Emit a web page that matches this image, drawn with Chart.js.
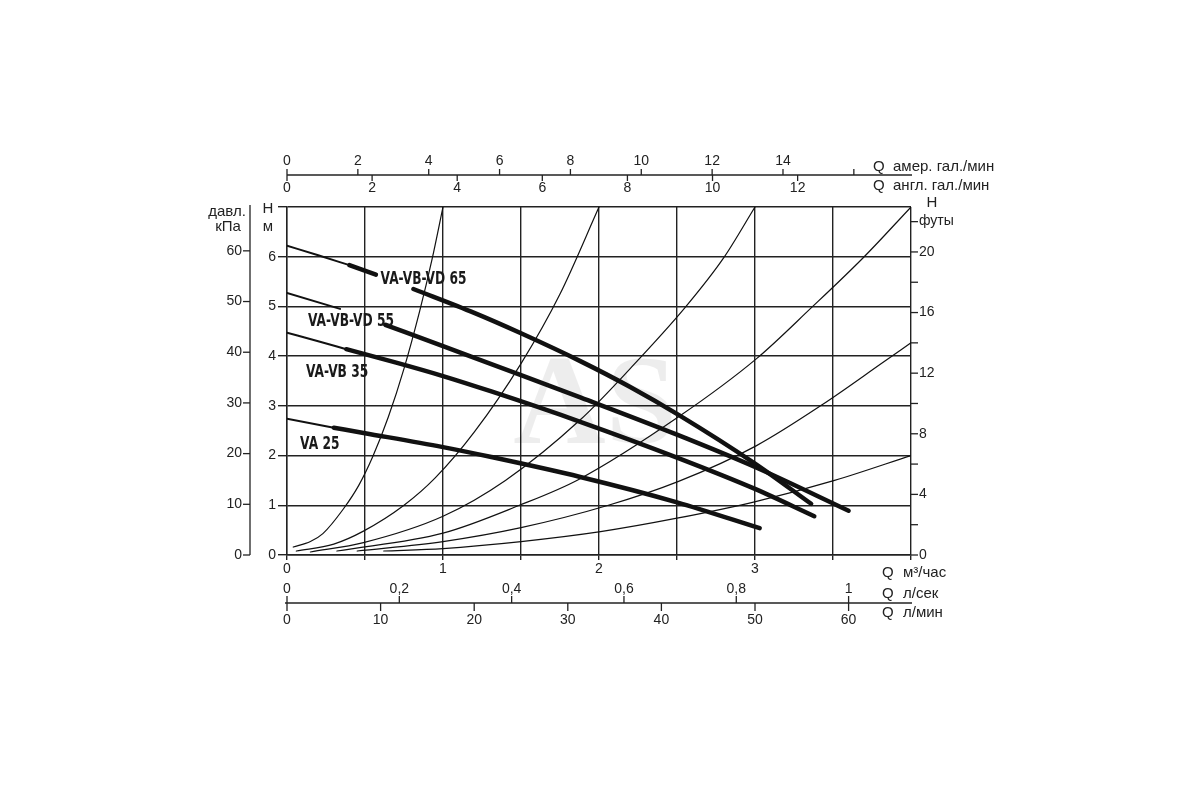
<!DOCTYPE html>
<html lang="ru">
<head>
<meta charset="utf-8">
<title>VA-VB-VD</title>
<script src="https://cdn.jsdelivr.net/npm/chart.js@4.4.1/dist/chart.umd.min.js"></script>
<style>
  html, body { margin: 0; background: #fff; }
  #wrap { width: 1200px; height: 800px; }
</style>
</head>
<body>
<div id="wrap"><canvas id="chart" width="1200" height="800"></canvas></div>
<script>
// Q in m3/h, H in m
const va65Thin   = [[0, 6.22], [0.2, 6.03], [0.4, 5.83]];
const va65ThickA = [[0.4, 5.83], [0.57, 5.64]];
const va65ThickB = [[0.81, 5.35], [1.2, 4.87], [1.5, 4.46], [1.88, 3.9], [2.2, 3.38], [2.51, 2.82], [3.0, 1.84], [3.36, 1.03]];

const va55Thin  = [[0, 5.27], [0.34, 4.95]];
const va55Thick = [[0.63, 4.63], [1.0, 4.2], [1.5, 3.62], [1.88, 3.17], [2.5, 2.42], [3.0, 1.77], [3.6, 0.89]];

const va35Thin  = [[0, 4.47], [0.2, 4.3], [0.38, 4.14]];
const va35Thick = [[0.38, 4.14], [0.7, 3.87], [1.0, 3.6], [1.31, 3.29], [1.88, 2.68], [2.5, 1.96], [3.0, 1.33], [3.38, 0.78]];

const va25Thin  = [[0, 2.74], [0.3, 2.56]];
const va25Thick = [[0.3, 2.56], [0.5, 2.45], [1.0, 2.17], [1.31, 1.97], [1.88, 1.57], [2.5, 1.06], [3.03, 0.54]];

// system (pipe) curves
const sys1 = [[0.04, 0.16], [0.15, 0.27], [0.23, 0.43], [0.36, 0.92], [0.46, 1.4], [0.55, 1.98], [0.65, 2.78], [0.75, 3.75], [0.85, 4.9], [0.93, 5.95], [1.0, 7.0]];
const sys2 = [[0.06, 0.08], [0.3, 0.22], [0.49, 0.48], [0.75, 1.0], [0.95, 1.55], [1.2, 2.47], [1.5, 3.85], [1.75, 5.25], [2.0, 7.0]];
const sys3 = [[0.15, 0.06], [0.49, 0.25], [1.0, 0.78], [1.4, 1.5], [1.88, 2.72], [2.2, 3.75], [2.55, 4.97], [2.8, 5.98], [3.0, 7.0]];
const sys4 = [[0.32, 0.08], [1.0, 0.44], [1.49, 1.0], [1.87, 1.52], [2.51, 2.78], [3.01, 3.95], [3.36, 4.97], [3.7, 6.0], [4.0, 7.0]];
const sys5 = [[0.45, 0.08], [1.0, 0.27], [1.5, 0.55], [2.06, 1.0], [2.51, 1.48], [3.01, 2.2], [3.43, 3.02], [3.81, 3.85], [4.0, 4.27]];
const sys6 = [[0.62, 0.08], [1.0, 0.13], [1.5, 0.27], [2.01, 0.47], [2.5, 0.74], [3.01, 1.08], [3.51, 1.5], [4.0, 2.0]];

// secondary axes
const usGpmTicks  = [0, 2, 4, 6, 8, 10, 12, 14, 16];
const usGpmLabels = ['0', '2', '4', '6', '8', '10', '12', '14', ''];
const impGpmTicks = [0, 2, 4, 6, 8, 10, 12];
const lpsTicks    = [0, 0.2, 0.4, 0.6, 0.8, 1];
const lpsLabels   = ['0', '0,2', '0,4', '0,6', '0,8', '1'];
const lpmTicks    = [0, 10, 20, 30, 40, 50, 60];
const kPaTicks    = [0, 10, 20, 30, 40, 50, 60];
const ftTicks     = [0, 2, 4, 6, 8, 10, 12, 14, 16, 18, 20, 22];
const ftLabels    = ['0', '', '4', '', '8', '', '12', '', '16', '', '20', 'футы'];

const curveLabels = [
  { text: 'VA-VB-VD 65', q: 0.6, h: 5.55 },
  { text: 'VA-VB-VD 55', q: 0.135, h: 4.69 },
  { text: 'VA-VB 35', q: 0.122, h: 3.66 },
  { text: 'VA 25', q: 0.084, h: 2.23 }
];

// unit conversions to m3/h and m
const M3H_PER_USGPM = 0.2271, M3H_PER_IMPGPM = 0.27277, M3H_PER_LPS = 3.6, M3H_PER_LPM = 0.06;
const M_PER_KPA = 0.10197, M_PER_FT = 0.3048;

const INK = '#222';
const FONT = '"Liberation Sans", Arial, sans-serif';

function curve(points, width) {
  return {
    data: points.map(p => ({ x: p[0], y: p[1] })),
    borderColor: '#111',
    borderWidth: width,
    pointRadius: 0,
    fill: false,
    cubicInterpolationMode: 'monotone',
    borderCapStyle: 'round'
  };
}

const extraAxes = {
  id: 'extraAxes',
  beforeDatasetsDraw(chart) {
    const { ctx, scales: { x, y } } = chart;
    ctx.save();
    ctx.fillStyle = 'rgba(0,0,0,0.07)';
    ctx.font = 'bold 128px "Liberation Serif", serif';
    ctx.textBaseline = 'alphabetic';
    ctx.textAlign = 'left';
    ctx.fillText('AS', x.getPixelForValue(1.45), y.getPixelForValue(2.25));
    ctx.restore();
  },
  afterDraw(chart) {
    const { ctx, scales: { x, y } } = chart;
    const line = (x0, y0, x1, y1) => {
      ctx.beginPath(); ctx.moveTo(x0, y0); ctx.lineTo(x1, y1); ctx.stroke();
    };
    const text = (t, px, py, align) => {
      ctx.textAlign = align || 'center';
      ctx.fillText(t, px, py);
    };
    ctx.save();
    ctx.strokeStyle = INK;
    ctx.fillStyle = INK;
    ctx.lineWidth = 1.3;
    ctx.textBaseline = 'middle';
    ctx.font = '14px ' + FONT;

    // top: US and imperial gallons per minute
    const topY = y.top - 32;
    line(x.left, topY, x.right + 1, topY);
    usGpmTicks.forEach((g, i) => {
      const px = x.getPixelForValue(g * M3H_PER_USGPM);
      line(px, topY - 6, px, topY);
      text(usGpmLabels[i], px, topY - 14);
    });
    impGpmTicks.forEach(g => {
      const px = x.getPixelForValue(g * M3H_PER_IMPGPM);
      line(px, topY, px, topY + 6);
      text(String(g), px, topY + 13);
    });

    // bottom: litres per second and per minute
    const botY = y.bottom + 48;
    line(x.left - 2, botY, x.right + 1, botY);
    lpsTicks.forEach((v, i) => {
      const px = x.getPixelForValue(v * M3H_PER_LPS);
      line(px, botY - 7, px, botY);
      text(lpsLabels[i], px, botY - 14);
    });
    lpmTicks.forEach(v => {
      const px = x.getPixelForValue(v * M3H_PER_LPM);
      line(px, botY, px, botY + 8);
      text(String(v), px, botY + 17);
    });

    // left: pressure kPa
    const kx = x.left - 37;
    line(kx, y.top - 2, kx, y.bottom);
    kPaTicks.forEach(p => {
      const py = y.getPixelForValue(p * M_PER_KPA);
      line(kx - 7, py, kx, py);
      text(String(p), kx - 8, py, 'right');
    });

    // right: head in feet
    ftTicks.forEach((f, i) => {
      const py = y.getPixelForValue(f * M_PER_FT);
      line(x.right, py, x.right + 7, py);
      if (ftLabels[i]) text(ftLabels[i], x.right + 8, py, 'left');
    });

    // axis titles
    ctx.font = '15px ' + FONT;
    text('давл.', kx - 23, y.top + 5);
    text('кПа', kx - 22, y.top + 20);
    text('H', x.left - 19, y.top + 2);
    text('м', x.left - 19, y.top + 20);
    text('H', x.right + 21, y.top - 4);

    const tq = x.right - 38, bq = x.right - 29;
    text('Q', tq, topY - 8, 'left');
    text('амер. гал./мин', tq + 20, topY - 8, 'left');
    text('Q', tq, topY + 11, 'left');
    text('англ. гал./мин', tq + 20, topY + 11, 'left');
    text('Q', bq, y.bottom + 18, 'left');
    text('м³/час', bq + 21, y.bottom + 18, 'left');
    text('Q', bq, y.bottom + 39, 'left');
    text('л/сек', bq + 21, y.bottom + 39, 'left');
    text('Q', bq, y.bottom + 58, 'left');
    text('л/мин', bq + 21, y.bottom + 58, 'left');

    // curve names
    ctx.font = 'bold 17px "Liberation Sans Narrow", "DejaVu Sans Condensed", sans-serif';
    ctx.fillStyle = '#1a1a1a';
    curveLabels.forEach(l => {
      ctx.save();
      ctx.translate(x.getPixelForValue(l.q), y.getPixelForValue(l.h));
      ctx.scale(0.8, 1);
      ctx.textAlign = 'left';
      ctx.fillText(l.text, 0, 0);
      ctx.restore();
    });
    ctx.restore();
  }
};

const gridStyle = { color: INK, lineWidth: 1.4 };

new Chart(document.getElementById('chart'), {
  type: 'line',
  data: {
    datasets: [
      curve(sys1, 1.2), curve(sys2, 1.2), curve(sys3, 1.2),
      curve(sys4, 1.2), curve(sys5, 1.2), curve(sys6, 1.2),
      curve(va65Thin, 2), curve(va65ThickA, 4.5), curve(va65ThickB, 4.5),
      curve(va55Thin, 2), curve(va55Thick, 4.5),
      curve(va35Thin, 2), curve(va35Thick, 4.5),
      curve(va25Thin, 2), curve(va25Thick, 4.5)
    ]
  },
  options: {
    responsive: false,
    animation: false,
    events: [],
    layout: { padding: { left: 247, right: 289, top: 207, bottom: 217 } },
    plugins: { legend: { display: false }, tooltip: { enabled: false } },
    scales: {
      x: {
        type: 'linear', min: 0, max: 4,
        grid: { ...gridStyle, tickLength: 5 },
        border: { color: INK, width: 1.4 },
        ticks: {
          stepSize: 0.5, autoSkip: false, maxRotation: 0, padding: 1,
          color: INK, font: { family: FONT, size: 14 },
          callback: v => (Number.isInteger(v) && v < 4 ? String(v) : '')
        },
        afterFit: s => { s.height = 28; }
      },
      y: {
        type: 'linear', min: 0, max: 7,
        grid: { ...gridStyle, tickLength: 9 },
        border: { color: INK, width: 1.4 },
        ticks: {
          stepSize: 1, autoSkip: false, padding: 2,
          color: INK, font: { family: FONT, size: 14 },
          callback: v => (v < 7 ? String(v) : '')
        },
        afterFit: s => { s.width = 40; }
      }
    }
  },
  plugins: [extraAxes]
});
</script>
</body>
</html>
